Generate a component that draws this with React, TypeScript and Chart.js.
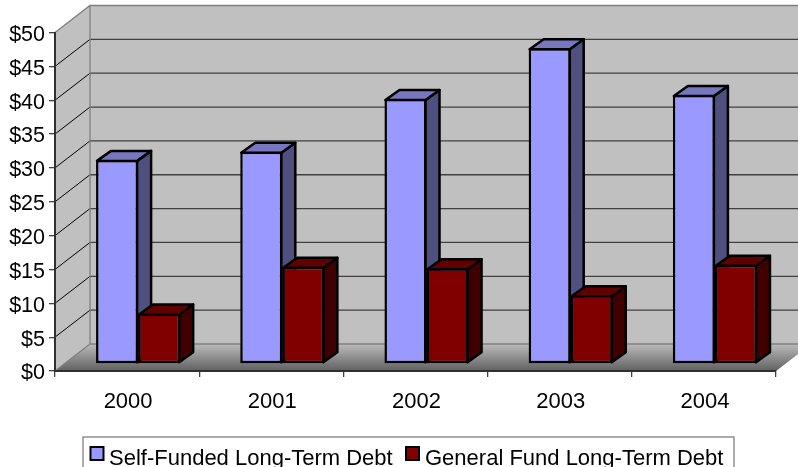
import React, { useEffect, useRef } from "react";
import { Chart, registerables } from "chart.js";

Chart.register(...registerables);

const years = ["2000", "2001", "2002", "2003", "2004"];
const selfFunded = [30.15, 31.35, 39.15, 46.65, 39.75];
const generalFund = [7.45, 14.35, 14.15, 10.15, 14.65];
const seriesNames = ["Self-Funded Long-Term Debt", "General Fund Long-Term Debt"];

const FONT = "Liberation Sans, Arial, sans-serif";
const FONT_SIZE = 22;

// 3D projection offsets
const WALL_DX = 35;
const WALL_DY = -27;
const BAR_DX = 11;
const BAR_DY = -7;
const DEPTH_DX = 14;
const DEPTH_DY = -10;
const BAR_LINE = 2.5;

const sideColors: Record<number, { top: string; side: string }> = {
  0: { top: "#7777C0", side: "#4F4F80" },
  1: { top: "#600000", side: "#400000" },
};

function shiftLabels(s: any, dx: number, dy: number) {
  if (s.__shifted) return;
  s.__shifted = true;
  const orig = s.drawLabels;
  s.drawLabels = function (area: any) {
    const ctx = this.ctx;
    ctx.save();
    ctx.translate(dx, dy);
    orig.call(this, area);
    ctx.restore();
  };
}

const wallPlugin = {
  id: "walls",
  beforeDraw(chart: any) {
    const { ctx, chartArea, scales } = chart;
    const { left, right, top, bottom } = chartArea;
    const bl = left + WALL_DX;
    const bt = top + WALL_DY;
    const bb = bottom + WALL_DY;
    const br = right + WALL_DX;
    ctx.save();
    ctx.fillStyle = "#fff";
    ctx.fillRect(0, 0, chart.width, chart.height);
    // back wall + side wall
    ctx.fillStyle = "#C0C0C0";
    ctx.beginPath();
    ctx.moveTo(left, top);
    ctx.lineTo(bl, bt);
    ctx.lineTo(br, bt);
    ctx.lineTo(br, bb);
    ctx.lineTo(right, bottom);
    ctx.lineTo(left, bottom);
    ctx.closePath();
    ctx.fill();
    // floor
    const g = ctx.createLinearGradient(0, bb, 0, bottom);
    g.addColorStop(0, "#BBBBBB");
    g.addColorStop(1, "#606060");
    ctx.fillStyle = g;
    ctx.beginPath();
    ctx.moveTo(left, bottom);
    ctx.lineTo(bl, bb);
    ctx.lineTo(br, bb);
    ctx.lineTo(right, bottom);
    ctx.closePath();
    ctx.fill();
    // gridlines
    const y = scales.y;
    y.ticks.forEach((t: any) => {
      const py = y.getPixelForValue(t.value);
      if (t.value > 0 && t.value < 50) {
        ctx.strokeStyle = "#000";
        ctx.lineWidth = 1;
        ctx.beginPath();
        ctx.moveTo(left, py);
        ctx.lineTo(bl, py + WALL_DY);
        ctx.stroke();
        ctx.strokeStyle = "#404040";
        ctx.lineWidth = 1.3;
        ctx.beginPath();
        ctx.moveTo(bl, py + WALL_DY);
        ctx.lineTo(br, py + WALL_DY);
        ctx.stroke();
      }
    });
    // wall edges
    ctx.strokeStyle = "#808080";
    ctx.lineWidth = 1.3;
    ctx.beginPath();
    ctx.moveTo(left, top);
    ctx.lineTo(bl, bt);
    ctx.lineTo(br, bt);
    ctx.moveTo(bl, bt);
    ctx.lineTo(bl, bb);
    ctx.lineTo(left, bottom);
    ctx.moveTo(bl, bb);
    ctx.lineTo(br, bb);
    ctx.stroke();
    ctx.restore();
  },
  beforeDatasetsDraw(chart: any) {
    // depth faces of all bars first: blue, then red, so red overlaps blue's side
    const { ctx } = chart;
    ctx.save();
    ctx.translate(BAR_DX, BAR_DY);
    ctx.strokeStyle = "#000";
    ctx.lineWidth = BAR_LINE;
    ctx.lineJoin = "round";
    [0, 1].forEach((index) => {
      const c = sideColors[index];
      chart.getDatasetMeta(index).data.forEach((el: any) => {
        const p = el.getProps(["x", "y", "base", "width"], true);
        const l = p.x - p.width / 2 + 1;
        const r = p.x + p.width / 2 - 1;
        const t = p.y + 1;
        const b = p.base - 1;
        ctx.fillStyle = c.side;
        ctx.beginPath();
        ctx.moveTo(r, t);
        ctx.lineTo(r + DEPTH_DX, t + DEPTH_DY);
        ctx.lineTo(r + DEPTH_DX, b + DEPTH_DY);
        ctx.lineTo(r, b);
        ctx.closePath();
        ctx.fill();
        ctx.stroke();
        ctx.fillStyle = c.top;
        ctx.beginPath();
        ctx.moveTo(l, t);
        ctx.lineTo(l + DEPTH_DX, t + DEPTH_DY);
        ctx.lineTo(r + DEPTH_DX, t + DEPTH_DY);
        ctx.lineTo(r, t);
        ctx.closePath();
        ctx.fill();
        ctx.stroke();
      });
    });
    ctx.restore();
  },
  beforeDatasetDraw(chart: any) {
    chart.ctx.save();
    chart.ctx.translate(BAR_DX, BAR_DY);
  },
  afterDatasetDraw(chart: any) {
    chart.ctx.restore();
  },
  afterDraw(chart: any) {
    const { ctx, data } = chart;
    ctx.save();
    // legend frame (runs off the bottom of the picture)
    ctx.strokeStyle = "#808080";
    ctx.lineWidth = 1.3;
    ctx.strokeRect(83, 437, 651, 40);
    ctx.font = `${FONT_SIZE}px ${FONT}`;
    ctx.textBaseline = "alphabetic";
    ctx.textAlign = "left";
    const boxes = [90.5, 406];
    const texts = [109, 425];
    data.datasets.forEach((ds: any, i: number) => {
      ctx.fillStyle = ds.backgroundColor;
      ctx.strokeStyle = "#000";
      ctx.lineWidth = 2;
      ctx.fillRect(boxes[i], 447, 13, 13);
      ctx.strokeRect(boxes[i], 447, 13, 13);
      ctx.fillStyle = "#000";
      ctx.fillText(ds.label, texts[i], 465);
    });
    ctx.restore();
  },
};

export default function App() {
  const ref = useRef<HTMLCanvasElement>(null);
  useEffect(() => {
    const chart = new Chart(ref.current!, {
      type: "bar",
      data: {
        labels: years,
        datasets: [
          {
            label: seriesNames[0],
            data: selfFunded,
            backgroundColor: "#9999FF",
            borderColor: "#000",
            borderWidth: BAR_LINE,
            borderSkipped: false,
            clip: false as any,
          },
          {
            label: seriesNames[1],
            data: generalFund,
            backgroundColor: "#800000",
            borderColor: "#000",
            borderWidth: BAR_LINE,
            borderSkipped: false,
            clip: false as any,
          },
        ],
      },
      options: {
        responsive: false,
        animation: false,
        events: [],
        layout: { padding: { top: 32.5, right: 22, left: 0, bottom: 0 } },
        plugins: {
          legend: { display: false },
          tooltip: { enabled: false },
          title: { display: false },
        },
        datasets: { bar: { categoryPercentage: 84 / 144, barPercentage: 1 } },
        scales: {
          x: {
            afterFit(s: any) {
              s.height = 96;
              shiftLabels(s, 1, 0);
            },
            grid: {
              drawOnChartArea: false,
              drawTicks: true,
              tickLength: 6,
              color: "#404040",
              lineWidth: 1.3,
            },
            border: { display: true, color: "#303030", width: 2 },
            ticks: {
              autoSkip: false,
              maxRotation: 0,
              padding: 12,
              color: "#000",
              font: { family: FONT, size: FONT_SIZE },
            },
          },
          y: {
            min: 0,
            max: 50,
            afterFit(s: any) {
              s.width = 55;
              shiftLabels(s, 0, 2.5);
            },
            grid: {
              drawOnChartArea: false,
              drawTicks: true,
              tickLength: 6,
              color: "#404040",
              lineWidth: 1.3,
            },
            border: { display: true, color: "#303030", width: 2 },
            ticks: {
              stepSize: 5,
              padding: 4,
              color: "#000",
              font: { family: FONT, size: 21.5 },
              callback: (v: any) => `$${v}`,
            },
          },
        },
      },
      plugins: [wallPlugin],
    } as any);
    return () => chart.destroy();
  }, []);
  return (
    <div style={{ position: "absolute", left: 0, top: 0 }}>
      <canvas ref={ref} width={798} height={467} style={{ display: "block" }} />
    </div>
  );
}
